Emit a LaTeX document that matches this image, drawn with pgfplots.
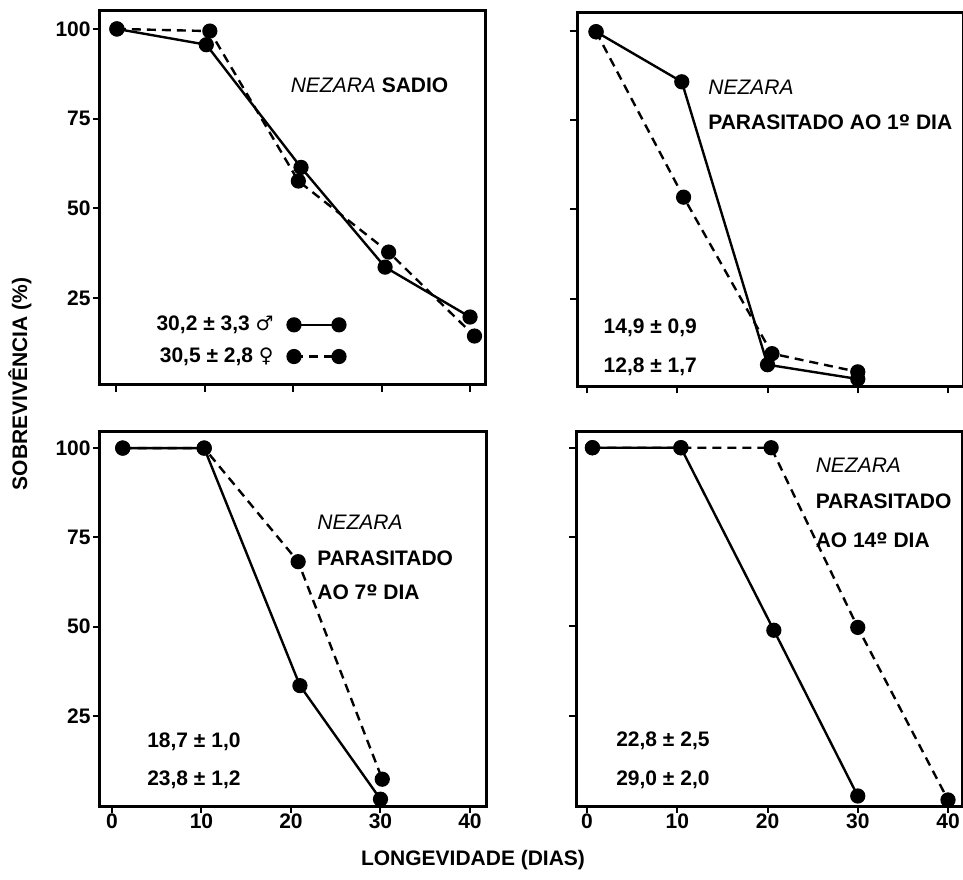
\documentclass[border=0pt]{standalone}
\usepackage{fontspec}
\setmainfont{Liberation Sans}
\newfontfamily\symf{DejaVu Sans}
\usepackage{pgfplots}
\pgfplotsset{compat=1.18}
\newcommand\f{\fontsize{10.5}{12.6}\selectfont\bfseries}
\newcommand\male{{\symf\mdseries\fontsize{10}{10}\selectfont ♂}}
\newcommand\female{{\symf\mdseries\fontsize{10}{10}\selectfont ♀}}
\newcommand\ord{{\symf\bfseries\fontsize{10}{10}\selectfont º}}
\pgfplotsset{
  panel/.style={scale only axis, width=193pt, height=187pt,
    axis line style={line width=1.5pt},
    tick style={line width=1pt, black},
    tick align=outside, tick pos=left,
    major tick length=3.5pt,
    xtick={0,10,20,30,40}, ytick={25,50,75,100},
    ticklabel style={font=\f},
    yticklabel style={inner xsep=1pt},
    /pgf/number format/assume math mode=true,
    clip=false},
  solidser/.style={black, line width=1.2pt, mark=*, mark size=3.2pt, mark options={solid}},
  dashser/.style={black, line width=1.2pt, dash pattern=on 4.5pt off 3pt, mark=*, mark size=3.2pt, mark options={solid}},
}
\begin{document}
\begin{tikzpicture}[every node/.append style={inner sep=0pt}]
\useasboundingbox (0,0) rectangle (481.5pt,439.5pt);
% top left
\begin{axis}[panel, at={(50pt,247pt)}, anchor=south west,
  xmin=-1.81, xmax=41.8, ymin=0.75, ymax=105.0, xticklabels={},
  legend plot pos=right,
  legend style={draw=none, fill=none, font=\f, inner sep=0pt, row sep=3pt,
    nodes={inner sep=2pt},
    at={(axis cs:25.96,21.2)}, anchor=north east},
  legend cell align=right,
  legend image code/.code={\draw[#1] plot coordinates {(0pt,0pt) (22.5pt,0pt)};}]
\addplot[solidser] coordinates {(0.1,100)(10.2,95.6)(20.9,61.4)(30.4,33.6)(40,19.7)};
\addlegendentry{30,2 ± 3,3 \male\rule{5pt}{0pt}}
\addplot[dashser] coordinates {(0.1,100)(10.6,99.4)(20.6,57.6)(30.8,37.8)(40.5,14.4)};
\addlegendentry{30,5 ± 2,8 \female\rule{5pt}{0pt}}
\node[anchor=west, font=\f] at (axis cs:19.7,84.4) {{\normalfont\itshape NEZARA} SADIO};
\end{axis}
% top right
\begin{axis}[panel, at={(288.5pt,246.25pt)}, anchor=south west,
  xmin=-1.11, xmax=41.66, ymin=0.4, ymax=105.1, xticklabels={}, yticklabels={}]
\addplot[solidser] coordinates {(1,99.7)(10.5,85.7)(20,6.5)(30,2.5)};
\addplot[dashser] coordinates {(1,99.7)(10.7,53.4)(20.5,9.6)(30,4.5)};
\node[anchor=west, font=\f] at (axis cs:13.4,84.3) {{\normalfont\itshape NEZARA}};
\node[anchor=west, font=\f] at (axis cs:13.4,74.3) {PARASITADO AO 1\ord\ DIA};
\node[anchor=west, font=\f] at (axis cs:1.8,16.9) {14,9 ± 0,9};
\node[anchor=west, font=\f] at (axis cs:1.8,6.0) {12,8 ± 1,7};
\end{axis}
% bottom left
\begin{axis}[panel, at={(50pt,36.5pt)}, anchor=south west,
  xmin=-1.34, xmax=41.79, ymin=-0.2, ymax=104.5]
\addplot[solidser] coordinates {(1.2,100)(10.3,100)(21,33.5)(30,1.7)};
\addplot[dashser] coordinates {(1.2,100)(10.3,100)(20.8,68.2)(30.2,7.3)};
\node[anchor=west, font=\f] at (axis cs:22.9,79.3) {{\normalfont\itshape NEZARA}};
\node[anchor=west, font=\f] at (axis cs:22.9,69.2) {PARASITADO};
\node[anchor=west, font=\f] at (axis cs:22.9,59.7) {AO 7\ord\ DIA};
\node[anchor=west, font=\f] at (axis cs:3.9,17.7) {18,7 ± 1,0};
\node[anchor=west, font=\f] at (axis cs:3.9,7.1) {23,8 ± 1,2};
\end{axis}
% bottom right
\begin{axis}[panel, at={(288pt,36.5pt)}, anchor=south west,
  xmin=-1.22, xmax=41.55, ymin=-0.3, ymax=104.4, yticklabels={}]
\addplot[solidser] coordinates {(0.6,100)(10.4,100)(20.7,48.9)(30,2.5)};
\addplot[dashser] coordinates {(0.6,100)(10.4,100)(20.4,100)(30,49.7)(40,1.4)};
\node[anchor=west, font=\f] at (axis cs:25.3,95) {{\normalfont\itshape NEZARA}};
\node[anchor=west, font=\f] at (axis cs:25.3,84.9) {PARASITADO};
\node[anchor=west, font=\f] at (axis cs:25.3,74) {AO 14\ord\ DIA};
\node[anchor=west, font=\f] at (axis cs:3.2,17.9) {22,8 ± 2,5};
\node[anchor=west, font=\f] at (axis cs:3.2,7.0) {29,0 ± 2,0};
\end{axis}
\node[rotate=90, font=\f] at (10pt,247.5pt) {SOBREVIVÊNCIA (\%)};
\node[font=\f] at (236.5pt,9.5pt) {LONGEVIDADE (DIAS)};
\end{tikzpicture}
\end{document}
